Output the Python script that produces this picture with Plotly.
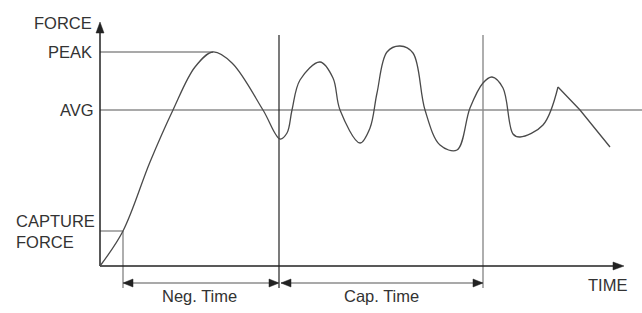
import plotly.graph_objects as go

# Curve (time units ~ pixels from origin, force units ~ pixels up)
time_a = [0, 23, 50, 73, 95, 113, 132, 163, 180, 187, 192, 200, 220, 233, 240,
          260, 270, 277, 287, 300, 313, 325, 340, 357, 370, 383, 392, 403, 413, 420, 443, 458]
force_a = [0, 35, 104, 156, 199, 214, 203, 156, 127, 133, 156, 186, 204, 188, 156,
           123, 138, 173, 214, 220, 213, 156, 121, 116, 158, 183, 189, 178, 132, 129, 141, 179]
time_b = [458, 480, 510]
force_b = [179, 156, 119]

peak_force = 214
avg_force = 156
capture_force = 35
capture_time = 23
neg_end = 179
cap_end = 383
labels = {"force": "FORCE", "peak": "PEAK", "avg": "AVG", "capture": "CAPTURE<br>FORCE",
          "neg": "Neg. Time", "cap": "Cap. Time", "time": "TIME"}

x_max = 524
y_max = 244
line_top = 231
line_bot = -22
dim_y = -17

FONT = "Liberation Sans, Arial, sans-serif"
TXT = "#333333"
GRAY = "#8c8c8c"

fig = go.Figure()
fig.add_trace(go.Scatter(x=time_a, y=force_a, mode="lines",
                         line=dict(color="#4a4a4a", width=1.3, shape="spline", smoothing=1.0),
                         hoverinfo="skip"))
fig.add_trace(go.Scatter(x=time_b, y=force_b, mode="lines",
                         line=dict(color="#4a4a4a", width=1.3),
                         hoverinfo="skip"))

shapes = []
def line(x0, y0, x1, y1, color, width):
    shapes.append(dict(type="line", xref="x", yref="y", x0=x0, y0=y0, x1=x1, y1=y1,
                       line=dict(color=color, width=width), layer="below"))

def tri(xt, yt, d, length=10, half=4, color="#222"):
    if d == "r":
        p = f"M{xt},{yt} L{xt-length},{yt+half} L{xt-length},{yt-half} Z"
    elif d == "l":
        p = f"M{xt},{yt} L{xt+length},{yt+half} L{xt+length},{yt-half} Z"
    else:
        p = f"M{xt},{yt} L{xt-half},{yt-length} L{xt+half},{yt-length} Z"
    shapes.append(dict(type="path", xref="x", yref="y", path=p,
                       fillcolor=color, line=dict(color=color, width=0.5)))

# reference lines
line(0, peak_force, 113, peak_force, GRAY, 1.6)
line(0, avg_force, 542, avg_force, GRAY, 1.6)
line(0, capture_force, capture_time, capture_force, GRAY, 1.4)
line(capture_time, capture_force, capture_time, line_bot, GRAY, 1.4)
line(neg_end, line_top, neg_end, line_bot, "#222", 1.2)
line(cap_end, line_top, cap_end, line_bot, GRAY, 1.4)
# axes
line(0, 0, 0, y_max - 8, "#222", 1.5)
line(0, 0, x_max - 8, 0, "#222", 1.5)
tri(0, y_max, "u", length=11, half=4)
tri(x_max, 0, "r", length=11, half=4)
# dimension arrows
line(capture_time, dim_y, neg_end, dim_y, GRAY, 1.4)
line(neg_end + 2, dim_y, cap_end, dim_y, GRAY, 1.4)
tri(capture_time, dim_y, "l")
tri(neg_end, dim_y, "r")
tri(neg_end + 2, dim_y, "l")
tri(cap_end, dim_y, "r")

ann = []
def text(t, x, y, xa="center"):
    ann.append(dict(text=t, x=x, y=y, xref="x", yref="y", xanchor=xa, yanchor="middle",
                    showarrow=False, align="left",
                    font=dict(family=FONT, size=16.5, color=TXT)))

text(labels["force"], -6, 243, "right")
text(labels["peak"], -6, peak_force, "right")
text(labels["avg"], -4, avg_force, "right")
text(labels["capture"], -86, 35, "left")
text(labels["neg"], 99, -30)
text(labels["cap"], 281, -30)
text(labels["time"], 507, -19)

fig.update_layout(
    width=642, height=313, margin=dict(l=0, r=0, t=0, b=0),
    paper_bgcolor="white", plot_bgcolor="white", showlegend=False,
    xaxis=dict(range=[-100, 542], visible=False, fixedrange=True),
    yaxis=dict(range=[-47, 266], visible=False, fixedrange=True),
    shapes=shapes, annotations=ann,
)
fig.write_html("out.html")
